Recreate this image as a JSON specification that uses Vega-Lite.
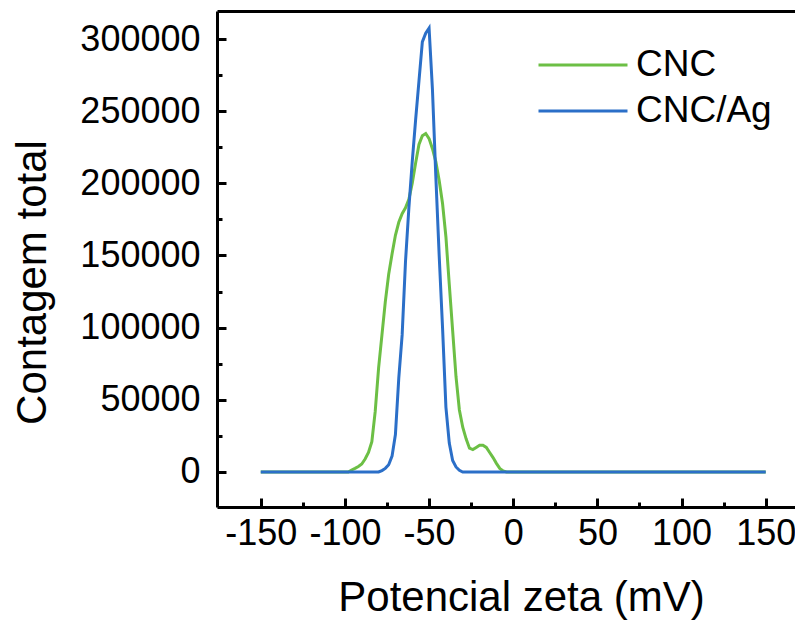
{
  "$schema": "https://vega.github.io/schema/vega-lite/v6.json",
  "width": 578,
  "height": 496,
  "autosize": "none",
  "padding": {"left": 217, "top": 11, "right": 0, "bottom": 115},
  "background": "white",
  "config": {
    "view": {"stroke": null},
    "font": "Liberation Sans",
    "axis": {"domainColor": "black", "domainWidth": 3, "tickColor": "black", "tickWidth": 3, "labelColor": "black", "titleColor": "black", "labelFont": "Liberation Sans", "titleFont": "Liberation Sans", "grid": false, "titleFontWeight": "normal"}
  },
  "data": {"values": [
    {"x": -150, "y": 0, "s": "CNC"}, {"x": -100, "y": 0, "s": "CNC"}, {"x": -98, "y": 0, "s": "CNC"},
    {"x": -96, "y": 1400, "s": "CNC"}, {"x": -94, "y": 2500, "s": "CNC"}, {"x": -92, "y": 3800, "s": "CNC"},
    {"x": -90, "y": 5500, "s": "CNC"}, {"x": -88, "y": 9000, "s": "CNC"}, {"x": -86, "y": 13500, "s": "CNC"},
    {"x": -84, "y": 21000, "s": "CNC"}, {"x": -82, "y": 42000, "s": "CNC"}, {"x": -80, "y": 72000, "s": "CNC"},
    {"x": -78, "y": 95000, "s": "CNC"}, {"x": -76, "y": 118000, "s": "CNC"}, {"x": -74, "y": 137000, "s": "CNC"},
    {"x": -72, "y": 151000, "s": "CNC"}, {"x": -70, "y": 164000, "s": "CNC"}, {"x": -68, "y": 173000, "s": "CNC"},
    {"x": -66, "y": 179000, "s": "CNC"}, {"x": -64, "y": 183000, "s": "CNC"}, {"x": -62, "y": 189000, "s": "CNC"},
    {"x": -60, "y": 200000, "s": "CNC"}, {"x": -58, "y": 214000, "s": "CNC"}, {"x": -56, "y": 227000, "s": "CNC"},
    {"x": -54, "y": 233000, "s": "CNC"}, {"x": -52, "y": 234500, "s": "CNC"}, {"x": -50, "y": 231000, "s": "CNC"},
    {"x": -48, "y": 224000, "s": "CNC"}, {"x": -46, "y": 215000, "s": "CNC"}, {"x": -44, "y": 202000, "s": "CNC"},
    {"x": -42, "y": 186000, "s": "CNC"}, {"x": -40, "y": 163000, "s": "CNC"}, {"x": -38, "y": 130000, "s": "CNC"},
    {"x": -36, "y": 98000, "s": "CNC"}, {"x": -34, "y": 66000, "s": "CNC"}, {"x": -32, "y": 43000, "s": "CNC"},
    {"x": -30, "y": 31000, "s": "CNC"}, {"x": -28, "y": 23000, "s": "CNC"}, {"x": -26, "y": 16500, "s": "CNC"},
    {"x": -24, "y": 15500, "s": "CNC"}, {"x": -22, "y": 17000, "s": "CNC"}, {"x": -20, "y": 18500, "s": "CNC"},
    {"x": -18, "y": 18500, "s": "CNC"}, {"x": -16, "y": 17000, "s": "CNC"}, {"x": -14, "y": 13500, "s": "CNC"},
    {"x": -12, "y": 10000, "s": "CNC"}, {"x": -10, "y": 6000, "s": "CNC"}, {"x": -8, "y": 2500, "s": "CNC"},
    {"x": -6, "y": 800, "s": "CNC"}, {"x": -4, "y": 0, "s": "CNC"}, {"x": 0, "y": 0, "s": "CNC"},
    {"x": 50, "y": 0, "s": "CNC"}, {"x": 100, "y": 0, "s": "CNC"}, {"x": 150, "y": 0, "s": "CNC"},
    {"x": -150, "y": 0, "s": "CNC/Ag"}, {"x": -100, "y": 0, "s": "CNC/Ag"}, {"x": -80, "y": 0, "s": "CNC/Ag"},
    {"x": -78, "y": 1000, "s": "CNC/Ag"}, {"x": -76, "y": 2500, "s": "CNC/Ag"}, {"x": -74, "y": 5000, "s": "CNC/Ag"},
    {"x": -72, "y": 11000, "s": "CNC/Ag"}, {"x": -70, "y": 26000, "s": "CNC/Ag"}, {"x": -68, "y": 65000, "s": "CNC/Ag"},
    {"x": -66, "y": 95000, "s": "CNC/Ag"}, {"x": -64, "y": 146000, "s": "CNC/Ag"}, {"x": -62, "y": 183000, "s": "CNC/Ag"},
    {"x": -60, "y": 215000, "s": "CNC/Ag"}, {"x": -58, "y": 244000, "s": "CNC/Ag"}, {"x": -56, "y": 271000, "s": "CNC/Ag"},
    {"x": -54, "y": 298000, "s": "CNC/Ag"}, {"x": -52, "y": 304000, "s": "CNC/Ag"}, {"x": -50, "y": 307500, "s": "CNC/Ag"},
    {"x": -48, "y": 265000, "s": "CNC/Ag"}, {"x": -46, "y": 205000, "s": "CNC/Ag"}, {"x": -44, "y": 150000, "s": "CNC/Ag"},
    {"x": -42, "y": 100000, "s": "CNC/Ag"}, {"x": -40, "y": 45000, "s": "CNC/Ag"}, {"x": -38, "y": 20000, "s": "CNC/Ag"},
    {"x": -36, "y": 8000, "s": "CNC/Ag"}, {"x": -34, "y": 3500, "s": "CNC/Ag"}, {"x": -32, "y": 1200, "s": "CNC/Ag"},
    {"x": -30, "y": 0, "s": "CNC/Ag"}, {"x": 0, "y": 0, "s": "CNC/Ag"}, {"x": 50, "y": 0, "s": "CNC/Ag"},
    {"x": 100, "y": 0, "s": "CNC/Ag"}, {"x": 150, "y": 0, "s": "CNC/Ag"}
  ]},
  "resolve": {"axis": {"x": "independent", "y": "independent"}},
  "layer": [
    {
      "transform": [{"filter": "datum.s === 'CNC'"}],
      "mark": {"type": "line", "strokeWidth": 3, "interpolate": "linear"},
      "encoding": {
        "x": {"field": "x", "type": "quantitative",
          "scale": {"domain": [-176, 167.4], "nice": false, "zero": false},
          "axis": {"orient": "bottom", "values": [-150, -100, -50, 0, 50, 100, 150], "tickSize": -9, "labelFontSize": 36, "labelPadding": 18, "labelFlush": false, "labelOverlap": false,
            "labelExpr": "datum.value < 0 ? '-' + abs(datum.value) : '' + datum.value",
            "title": "Potencial zeta (mV)", "titleFontSize": 42, "titleX": 304, "titleY": 103, "titleBaseline": "alphabetic", "titleAlign": "center"}},
        "y": {"field": "y", "type": "quantitative",
          "scale": {"domain": [-24250, 319400], "nice": false, "zero": false},
          "axis": {"orient": "left", "values": [0, 50000, 100000, 150000, 200000, 250000, 300000], "format": "d", "tickSize": -9, "labelFontSize": 36, "labelPadding": 26, "labelOverlap": false,
            "title": "Contagem total", "titleFontSize": 42, "titleX": -172, "titleY": 271, "titleBaseline": "alphabetic", "titleAlign": "center", "titleAngle": -90}},
        "color": {"field": "s", "type": "nominal",
          "scale": {"domain": ["CNC", "CNC/Ag"], "range": ["#6cbf45", "#2b6fc8"]},
          "legend": {"orient": "none", "legendX": 342, "legendY": 30, "title": null, "symbolType": "M-2,0H2", "symbolSize": 1980, "symbolStrokeWidth": 3, "labelFontSize": 37, "labelColor": "black", "labelOffset": 29, "rowPadding": 4}}
      }
    },
    {
      "transform": [{"filter": "datum.s === 'CNC/Ag'"}],
      "mark": {"type": "line", "strokeWidth": 3, "interpolate": "linear"},
      "encoding": {
        "x": {"field": "x", "type": "quantitative",
          "axis": {"orient": "top", "ticks": false, "labels": false, "title": null}},
        "y": {"field": "y", "type": "quantitative",
          "axis": {"orient": "left", "values": [25000, 75000, 125000, 175000, 225000, 275000], "tickSize": -5, "labels": false, "domain": false, "title": null}},
        "color": {"field": "s", "type": "nominal",
          "legend": {"orient": "none", "legendX": 342, "legendY": 30, "title": null, "symbolType": "M-2,0H2", "symbolSize": 1980, "symbolStrokeWidth": 3, "labelFontSize": 37, "labelColor": "black", "labelOffset": 29, "rowPadding": 4}}
      }
    },
    {
      "transform": [{"filter": "datum.s === 'CNC/Ag'"}],
      "mark": {"type": "line", "strokeWidth": 3, "opacity": 0},
      "encoding": {
        "x": {"field": "x", "type": "quantitative",
          "axis": {"orient": "bottom", "values": [-125, -75, -25, 25, 75, 125], "tickSize": -5, "labels": false, "domain": false, "title": null}},
        "y": {"field": "y", "type": "quantitative", "axis": null}
      }
    }
  ]
}
